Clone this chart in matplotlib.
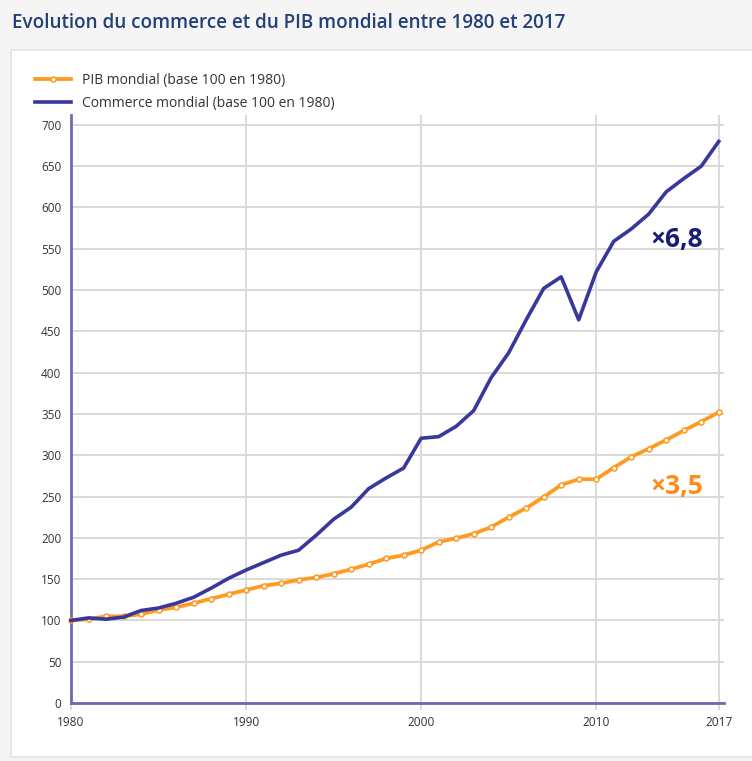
import matplotlib
matplotlib.use("Agg")
import matplotlib.pyplot as plt
from matplotlib.patches import Rectangle
from matplotlib.lines import Line2D

plt.rcParams['font.family'] = ['Open Sans', 'DejaVu Sans']

years = list(range(1980, 2018))
pib = [100, 101.4, 105, 105, 107.4, 112.6, 115.9, 120.7, 126.3, 131.6,
       136.9, 142, 145, 149, 152, 156.4, 162, 168, 175, 179,
       185, 195, 199.5, 205, 213, 225, 236, 249.5, 264, 271,
       271, 285, 298, 308, 318.5, 330, 340.7, 352]
commerce = [100, 103, 101.5, 104, 112, 115, 120.7, 128, 139, 151,
            161, 170, 179, 185, 203, 222.5, 237, 259.5, 272.5, 284.5,
            320.6, 322.5, 335, 354, 394, 424, 464, 502, 516, 464,
            522, 559, 574, 592, 619, 635, 650, 680]
xticks = [1980, 1990, 2000, 2010, 2017]
yticks = list(range(0, 701, 50))
title = "Evolution du commerce et du PIB mondial entre 1980 et 2017"
label_pib = "PIB mondial (base 100 en 1980)"
label_com = "Commerce mondial (base 100 en 1980)"

W, H = 752, 761
fig = plt.figure(figsize=(W / 100, H / 100), dpi=100)
fig.patch.set_facecolor('#f5f5f5')

# white panel
fig.add_artist(Rectangle((11 / W, 4 / H), (W - 11) / W + 0.01, (757 - 50) / H,
                         transform=fig.transFigure, facecolor='white',
                         edgecolor='#e3e3e3', linewidth=1.2, zorder=0))

fig.text(12 / W, 1 - 23 / H, title, fontsize=13.6, color='#22407a',
         ha='left', va='center', fontweight='semibold')

ax = fig.add_axes([71 / W, (H - 703) / H, (724 - 71) / W, (703 - 115) / H])
ax.set_facecolor('white')

blue = '#38379c'
orange = '#ff9a1f'

ax.plot(years, pib, color=orange, linewidth=2.7, marker='o', markersize=3.6,
        markerfacecolor='white', markeredgecolor=orange, markeredgewidth=1.1,
        zorder=3, clip_on=False)
ax.plot(years, commerce, color=blue, linewidth=2.6, zorder=4, clip_on=False)

ax.set_xlim(1980, 2017.3)
ax.set_ylim(0, 712)
ax.set_xticks(xticks)
ax.set_xticklabels([str(x) for x in xticks])
ax.set_yticks(yticks)
ax.set_yticklabels([str(y) for y in yticks])

ax.grid(True, color='#d9d9d9', linewidth=1.4, zorder=0)
ax.set_axisbelow(True)
for s in ['top', 'right']:
    ax.spines[s].set_visible(False)
for s in ['left', 'bottom']:
    ax.spines[s].set_color('#6a6aae')
    ax.spines[s].set_linewidth(2)
ax.tick_params(axis='y', length=0, pad=7, labelsize=8.5, labelcolor='#333333')
ax.tick_params(axis='x', length=5, width=1.4, color='#d9d9d9', pad=4,
               labelsize=8.6, labelcolor='#333333')

ax.text(2013.1, 561, "×6,8", fontsize=19, fontweight='bold', color='#1a1d78',
        ha='left', va='center')
ax.text(2013.1, 262, "×3,5", fontsize=19, fontweight='bold', color='#ff8c1a',
        ha='left', va='center')

handles = [Line2D([], [], color=orange, linewidth=2.7, marker='o', markersize=3.6,
                  markerfacecolor='white', markeredgecolor=orange, markeredgewidth=1.1),
           Line2D([], [], color=blue, linewidth=2.6)]
leg = fig.legend(handles, [label_pib, label_com], loc='upper left',
                 bbox_to_anchor=(35 / W, 1 - 73 / H), frameon=False,
                 fontsize=10, handlelength=2.6, handletextpad=0.8,
                 labelspacing=0.58, borderpad=0, borderaxespad=0)
for t in leg.get_texts():
    t.set_color('#333333')

fig.savefig('out.png', dpi=100, facecolor=fig.get_facecolor())
